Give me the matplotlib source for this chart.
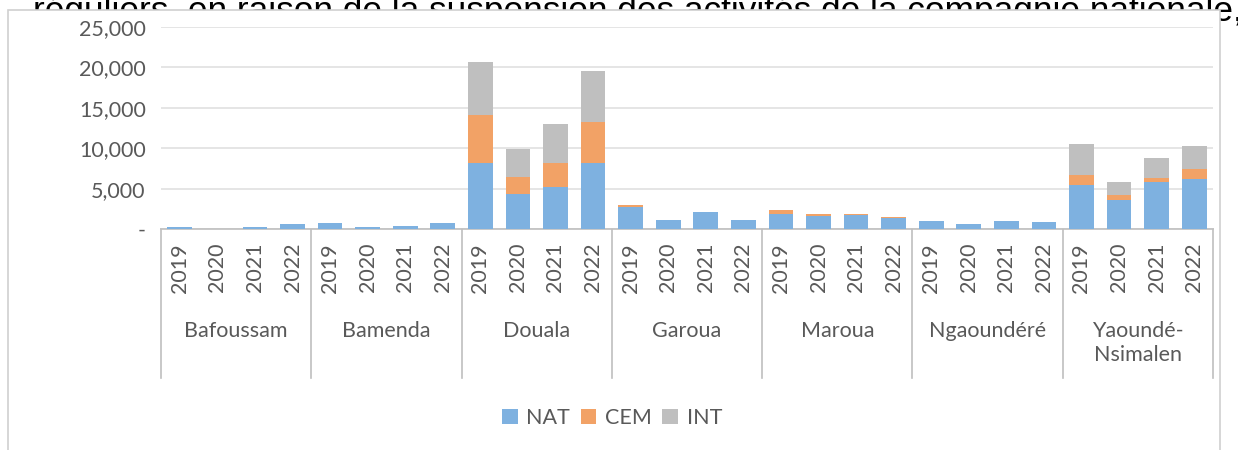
import matplotlib
matplotlib.use("Agg")
import matplotlib.pyplot as plt
from matplotlib.patches import Rectangle, Patch
from matplotlib.ticker import FuncFormatter
import matplotlib.transforms as mtransforms
import numpy as np

regions = ['Bafoussam', 'Bamenda', 'Douala', 'Garoua', 'Maroua', 'Ngaoundéré', 'Yaoundé-\nNsimalen']
years = ['2019', '2020', '2021', '2022']

nat = [250, 40, 300, 620,
       790, 250, 370, 790,
       8170, 4380, 5200, 8170,
       2760, 1150, 2060, 1150,
       1810, 1650, 1690, 1360,
       940, 620, 940, 820,
       5410, 3550, 5820, 6240]
cem = [0, 0, 0, 0,
       0, 0, 0, 0,
       5900, 2060, 2970, 5070,
       240, 0, 0, 0,
       580, 160, 120, 120,
       0, 0, 0, 0,
       1320, 660, 490, 1240]
intl = [0, 0, 0, 0,
        0, 0, 0, 0,
        6600, 3420, 4870, 6310,
        0, 0, 0, 0,
        0, 0, 0, 0,
        0, 0, 0, 0,
        3750, 1570, 2530, 2760]
series_names = ['NAT', 'CEM', 'INT']
colors = ['#7EB1E0', '#F2A266', '#BFBFBF']

header_text = "réguliers, en raison de la suspension des activités de la compagnie nationale,"

W, H = 1238, 450
fig = plt.figure(figsize=(W / 100, H / 100), dpi=100)
fig.patch.set_facecolor('white')

font = 'Lato'
txtcol = '#595959'
fs = 15.5

# clipped header text behind the chart box
ht = fig.text(33 / W, 1 - 21 / H, header_text, fontsize=22, family='Liberation Sans',
              color='black', ha='left', va='baseline', zorder=0.5)
fig.canvas.draw()
bb = ht.get_window_extent()
ht.set_fontsize(22 * (1205 / bb.width))

# chart box
box = Rectangle((8 / W, -0.02), (1220 - 8) / W, (H - 10) / H + 0.02, transform=fig.transFigure,
                facecolor='white', edgecolor='#D0D0D0', linewidth=1.2, zorder=1)
fig.patches.append(box)

# axes
x0, x1 = 161, 1213
y_top, y_bot = 27, 229
ax = fig.add_axes([x0 / W, (H - y_bot) / H, (x1 - x0) / W, (y_bot - y_top) / H])
ax.set_zorder(2)
ax.patch.set_alpha(0)

n = len(nat)
x = np.arange(n)
bw = 0.66
nat_a = np.array(nat, dtype=float)
cem_a = np.array(cem, dtype=float)
int_a = np.array(intl, dtype=float)
ax.bar(x, nat_a, bw, color=colors[0], zorder=3, label=series_names[0])
ax.bar(x, cem_a, bw, bottom=nat_a, color=colors[1], zorder=3, label=series_names[1])
ax.bar(x, int_a, bw, bottom=nat_a + cem_a, color=colors[2], zorder=3, label=series_names[2])

ax.set_xlim(-0.5, n - 0.5)
ax.set_ylim(0, 25000)
ax.set_yticks(np.arange(0, 25001, 5000))
ax.yaxis.set_major_formatter(FuncFormatter(lambda v, p: '-' if v == 0 else f'{int(v):,}'))
ax.tick_params(axis='y', length=0, pad=11, labelsize=fs, labelcolor=txtcol)
for lab in ax.get_yticklabels():
    lab.set_family(font)
ax.set_xticks([])
ax.grid(axis='y', color='#E0E0E0', linewidth=1.2, zorder=0)
for s in ['top', 'right', 'left']:
    ax.spines[s].set_visible(False)
ax.spines['bottom'].set_color('#BFBFBF')
ax.spines['bottom'].set_linewidth(1.2)

trans = mtransforms.blended_transform_factory(ax.transData, ax.transAxes)
axh = y_bot - y_top
# year labels
for i in range(n):
    ax.text(i, (y_bot - 243) / axh, years[i % 4], rotation=90, ha='center', va='top',
            fontsize=fs, family=font, color=txtcol, transform=trans, clip_on=False)
# group labels
for g, name in enumerate(regions):
    ax.text(g * 4 + 1.5, (y_bot - 321) / axh, name, ha='center', va='top', fontsize=fs,
            family=font, color=txtcol, transform=trans, clip_on=False, linespacing=1.25,
            multialignment='center')
# separators
for b in range(len(regions) + 1):
    xb = b * 4 - 0.5
    ax.plot([xb, xb], [0, (y_bot - 378) / axh], color='#BFBFBF', linewidth=1.2,
            transform=trans, clip_on=False, zorder=1)

handles = [Patch(facecolor=c, edgecolor='none') for c in colors]
leg = fig.legend(handles, series_names, loc='center', bbox_to_anchor=(612 / W, 1 - 418 / H),
                 ncol=3, frameon=False, handlelength=0.72, handleheight=0.72,
                 handletextpad=0.4, columnspacing=0.5, prop={'family': font, 'size': fs})
for t in leg.get_texts():
    t.set_color(txtcol)

fig.savefig('out.png', dpi=100, facecolor='white')
